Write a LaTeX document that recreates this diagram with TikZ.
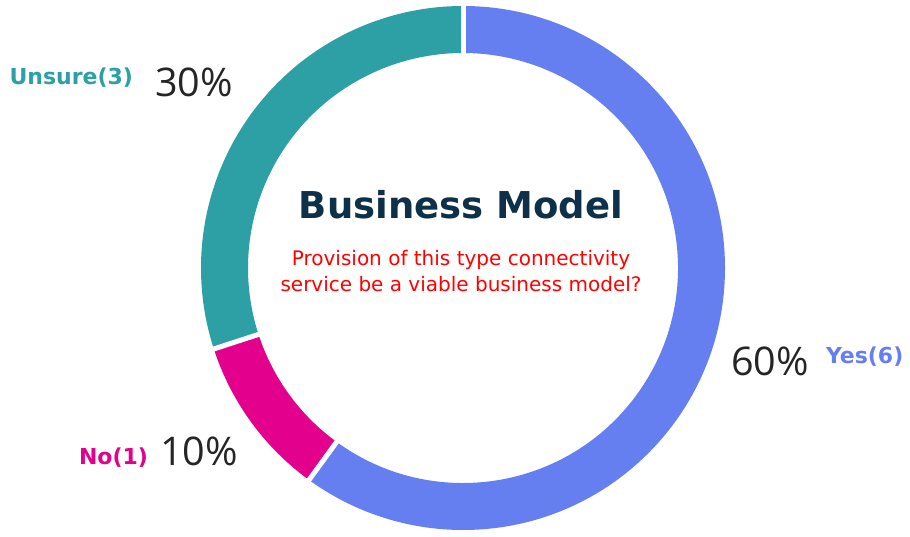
\documentclass[tikz,border=0pt]{standalone}
\usepackage{fontspec}
\setmainfont{DejaVu Sans}
\newfontfamily\pctfont{Open Sans}
\usepackage{tikz}
\usetikzlibrary{calc}

\definecolor{yescol}{HTML}{667FF0}
\definecolor{nocol}{HTML}{E3008C}
\definecolor{unsurecol}{HTML}{2CA0A5}
\definecolor{titlecol}{HTML}{0E3049}
\definecolor{pctcol}{HTML}{252525}

% ring segment: colour, start angle, end angle
\newcommand{\ringpart}[3]{%
  \fill [#1] (463,268) ++(#2:262) arc [start angle=#2,end angle=#3,radius=262]
    -- ($(463,268)+(#3:215)$) arc [start angle=#3,end angle=#2,radius=215] -- cycle;}

\begin{document}
\begin{tikzpicture}[x=1pt,y=1pt,
    every node/.style={inner sep=0pt,outer sep=0pt},
    catlabel/.style={font=\fontsize{22}{26}\selectfont\bfseries},
    pctlabel/.style={font=\pctfont\fontsize{39.5}{44}\selectfont,text=pctcol},
    gapline/.style={white,line width=5pt}]
  \useasboundingbox (0,0) rectangle (910,536);
  \coordinate (c) at (463,268);

  \ringpart{yescol}{90}{-126}
  \ringpart{nocol}{-126}{-162}
  \ringpart{unsurecol}{-162}{-270}

  \foreach \a in {90,-126,-162}
    \draw [gapline] ($(c)+(\a:210)$) -- ($(c)+(\a:267)$);

  \node (title) [anchor=base,font=\fontsize{37}{44}\selectfont\bfseries,text=titlecol] at (461,317) {Business Model};
  \node (question) [anchor=base,font=\fontsize{20}{26}\selectfont,text=red,align=center] at (461,244)
    {Provision of this type connectivity\\service be a viable business model?};

  \node (unsure) [catlabel,anchor=base east,text=unsurecol] at (133,451) {Unsure(3)};
  \node (unsurepct) [pctlabel,anchor=base west] at (155,439) {30\%};
  \node (yes) [catlabel,anchor=base west,text=yescol] at (826,173) {Yes(6)};
  \node (yespct) [pctlabel,anchor=base west] at (731,161) {60\%};
  \node (no) [catlabel,anchor=base east,text=nocol] at (148,72) {No(1)};
  \node (nopct) [pctlabel,anchor=base west] at (160,71) {10\%};
\end{tikzpicture}
\end{document}
